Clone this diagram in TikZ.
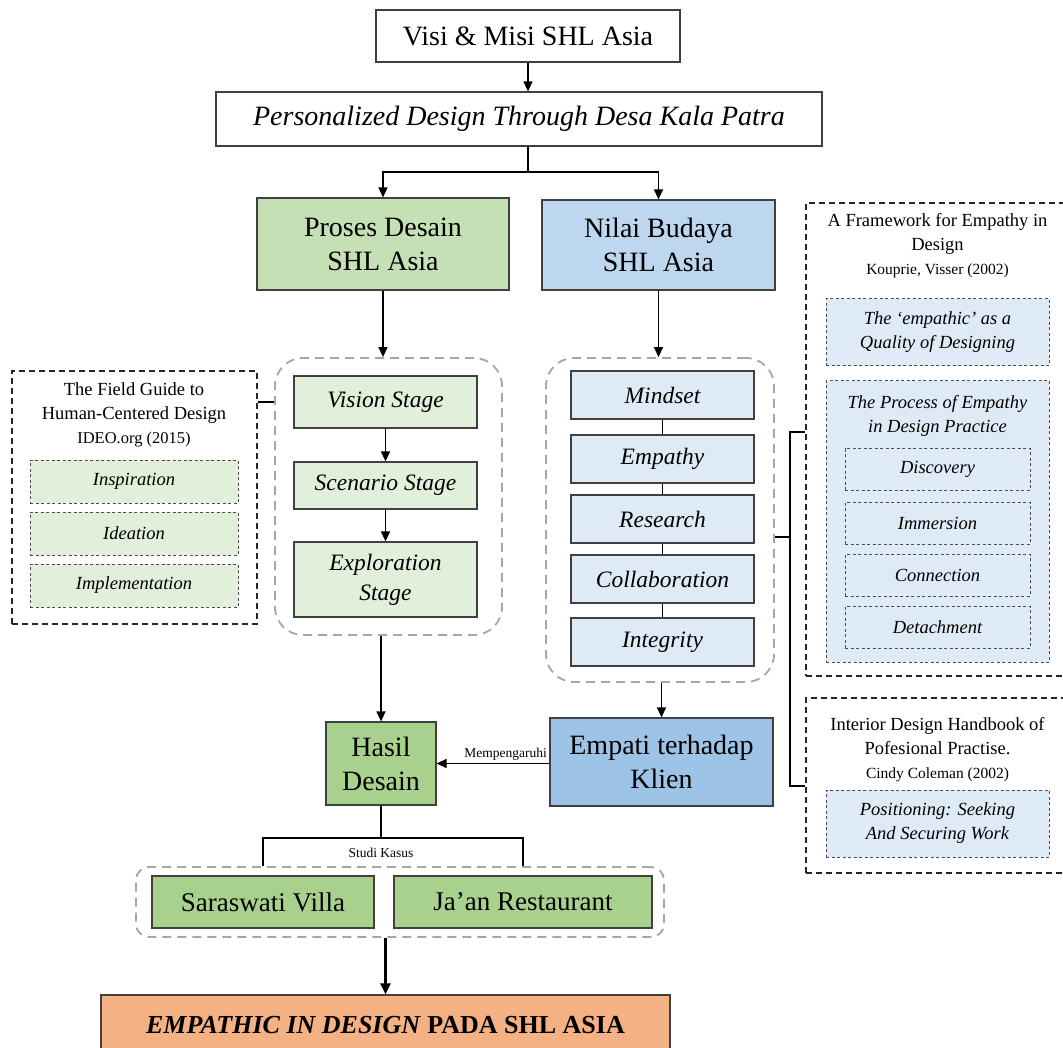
\documentclass[tikz,border=0pt]{standalone}
\usepackage{fontspec}
\setmainfont{Liberation Serif}
\usetikzlibrary{arrows.meta}
\definecolor{boxline}{HTML}{404040}
\definecolor{grpline}{HTML}{A6A6A6}
\definecolor{gL}{HTML}{E2EFDA}
\definecolor{gA}{HTML}{C5E0B4}
\definecolor{gM}{HTML}{A9D18E}
\definecolor{bN}{HTML}{BDD7EE}
\definecolor{bL}{HTML}{DEEBF7}
\definecolor{bE}{HTML}{9DC3E6}
\definecolor{orF}{HTML}{F4B183}
\newcommand\fsz[2]{\fontsize{#1}{#2}\selectfont}
\begin{document}
\begin{tikzpicture}[x=1pt,y=-1pt,
  box/.style={draw=boxline, line width=1.2pt, inner sep=0pt, align=center},
  arr/.style={-{Triangle[length=10pt,width=9pt]}, line width=1.3pt},
  ln/.style={line width=1.2pt},
  ddash/.style={draw=black!85, line width=1.3pt, dash pattern=on 6pt off 4pt, inner sep=0pt},
  sdash/.style={draw=black!70, line width=1pt, dash pattern=on 3pt off 2.5pt, inner sep=0pt, align=center},
  grp/.style={draw=grpline, line width=1.8pt, dash pattern=on 9pt off 6pt, rounded corners=28pt, inner sep=0pt},
  big/.style={font=\fsz{28}{34}},
  stage/.style={font=\fsz{23.5}{30}\itshape},
  small/.style={font=\fsz{18.5}{24}\itshape},
  ttl/.style={font=\fsz{18.5}{24}, align=center, inner sep=0pt}
]
\useasboundingbox (0,0) rectangle (1063,1048);
\clip (0,0) rectangle (1063,1048);

% dashed groups
\node[grp, minimum width=227pt, minimum height=277pt] (lgrp) at (388.5,496.5) {};
\node[grp, minimum width=228pt, minimum height=324pt] (rgrp) at (660,520) {};
\node[grp, rounded corners=13pt, minimum width=528pt, minimum height=70pt] (bgrp) at (400,902) {};

% top
\node[box, big, minimum width=304pt, minimum height=52pt] (visi) at (528,36) {Visi \& Misi SHL Asia};
\node[box, big, font=\fsz{28}{34}\itshape, minimum width=606pt, minimum height=54pt] (pers) at (519,119) {Personalized Design Through Desa Kala Patra};
\node[box, big, fill=gA, minimum width=252pt, minimum height=92pt] (proses) at (383,244) {Proses Desain\\SHL Asia};
\node[box, big, fill=bN, minimum width=233pt, minimum height=90pt] (nilai) at (658.5,245) {Nilai Budaya\\SHL Asia};

% stages
\node[box, stage, fill=gL, minimum width=183pt, minimum height=52pt] (vis) at (385.5,402) {Vision Stage};
\node[box, stage, fill=gL, minimum width=183pt, minimum height=47pt] (scen) at (385.5,485.5) {Scenario Stage};
\node[box, stage, fill=gL, minimum width=183pt, minimum height=75pt] (expl) at (385.5,579.5) {Exploration\\Stage};

% field guide
\node[ddash, minimum width=245pt, minimum height=253pt] (fg) at (134.5,497.5) {};
\node[ttl] (fgt) at (134,415) {The Field Guide to\\Human-Centered Design\\{\fsz{16.5}{21}IDEO.org (2015)}};
\node[sdash, small, fill=gL, minimum width=208pt, minimum height=43pt] (insp) at (134,481.5) {Inspiration};
\node[sdash, small, fill=gL, minimum width=208pt, minimum height=43pt] (idea) at (134,533.5) {Ideation};
\node[sdash, small, fill=gL, minimum width=208pt, minimum height=43pt] (impl) at (134,585.5) {Implementation};

% values
\node[box, stage, fill=bL, minimum width=183pt, minimum height=48pt] (mind) at (662.5,395) {Mindset};
\node[box, stage, fill=bL, minimum width=183pt, minimum height=48pt] (emp) at (662.5,459) {Empathy};
\node[box, stage, fill=bL, minimum width=183pt, minimum height=48pt] (res) at (662.5,519) {Research};
\node[box, stage, fill=bL, minimum width=183pt, minimum height=48pt] (col) at (662.5,579) {Collaboration};
\node[box, stage, fill=bL, minimum width=183pt, minimum height=48pt] (integ) at (662.5,642) {Integrity};

% framework
\node[ddash, minimum width=263pt, minimum height=473pt] (fw) at (937.5,439.5) {};
\node[ttl] (fwt) at (937.5,246) {A Framework for Empathy in\\Design\\{\fsz{15.5}{21}Kouprie, Visser (2002)}};
\node[sdash, small, fill=bL, minimum width=223pt, minimum height=67pt] (q1) at (937.5,332.5) {The ‘empathic’ as a\\Quality of Designing};
\node[sdash, fill=bL, minimum width=223pt, minimum height=281pt] (q2) at (937.5,521.5) {};
\node[small, align=center, inner sep=0pt] (q2t) at (937.5,416) {The Process of Empathy\\in Design Practice};
\node[sdash, small, fill=bL, minimum width=185pt, minimum height=42pt] (disc) at (937.5,469) {Discovery};
\node[sdash, small, fill=bL, minimum width=185pt, minimum height=42pt] (imm) at (937.5,523) {Immersion};
\node[sdash, small, fill=bL, minimum width=185pt, minimum height=42pt] (conn) at (937.5,575) {Connection};
\node[sdash, small, fill=bL, minimum width=185pt, minimum height=42pt] (det) at (937.5,627) {Detachment};

% handbook
\node[ddash, minimum width=263pt, minimum height=175pt] (idh) at (937.5,785.5) {};
\node[ttl] (idht) at (937.5,750) {Interior Design Handbook of\\Pofesional Practise.\\{\fsz{15.5}{21}Cindy Coleman (2002)}};
\node[sdash, small, fill=bL, minimum width=223pt, minimum height=67pt] (posi) at (937.5,823.5) {Positioning: Seeking\\And Securing Work};

% results
\node[box, big, fill=gM, minimum width=110pt, minimum height=83pt] (hasil) at (381,763.5) {Hasil\\Desain};
\node[box, big, fill=bE, minimum width=223pt, minimum height=88pt] (empati) at (661.5,762) {Empati terhadap\\Klien};
\node[box, big, font=\fsz{27}{34}, fill=gM, minimum width=222pt, minimum height=52pt] (sara) at (263,902) {Saraswati Villa};
\node[box, big, font=\fsz{27}{34}, fill=gM, minimum width=258pt, minimum height=52pt] (jaan) at (523,902) {Ja’an Restaurant};
\node[box, fill=orF, font=\fsz{26}{32}\bfseries, minimum width=569pt, minimum height=60pt] (final) at (385.5,1025) {\textit{EMPATHIC IN DESIGN} PADA SHL ASIA};

% connectors
\draw[arr] (visi) -- (visi.south |- pers.north);
\coordinate (split) at (528,172);
\draw[ln] (pers.south -| split) -- (split);
\draw[arr] (split) -| (proses.north);
\draw[arr] (split) -| (nilai.north);
\draw[arr] (proses.south) -- (proses.south |- lgrp.north);
\draw[arr] (vis) -- (scen);
\draw[arr] (scen) -- (expl);
\draw[arr] (hasil.north |- lgrp.south) -- (hasil.north);
\draw[ln] (fg.east |- vis) -- (lgrp.west |- vis);
\draw[arr] (nilai.south) -- (nilai.south |- rgrp.north);
\draw[ln] (mind) -- (emp);
\draw[ln] (emp) -- (res);
\draw[ln] (res) -- (col);
\draw[ln] (col) -- (integ);
\draw[arr] (empati.north |- rgrp.south) -- (empati.north);
\draw[arr] (empati.west |- hasil) -- (hasil.east)
  node[pos=0, above left, inner sep=2pt, font=\fsz{13.5}{16}] (mlab) {Mempengaruhi};
\coordinate (bt) at (790,432);
\coordinate (bm) at (790,537);
\coordinate (bb) at (790,786);
\draw[ln] (fw.west |- bt) -- (bt) -- (bb) -- (idh.west |- bb);
\draw[ln] (rgrp.east |- bm) -- (bm);
\coordinate (bk) at (381,838);
\draw[ln] (hasil.south) -- (bk);
\draw[ln] (sara.north |- bgrp.north) |- (bk) -| (jaan.north |- bgrp.north);
\node[font=\fsz{13.5}{16}, inner sep=0pt] (sk) at (381,853) {Studi Kasus};
\draw[-{Triangle[length=11pt,width=10pt]}, line width=2.2pt] (final.north |- bgrp.south) -- (final.north);
\end{tikzpicture}
\end{document}
